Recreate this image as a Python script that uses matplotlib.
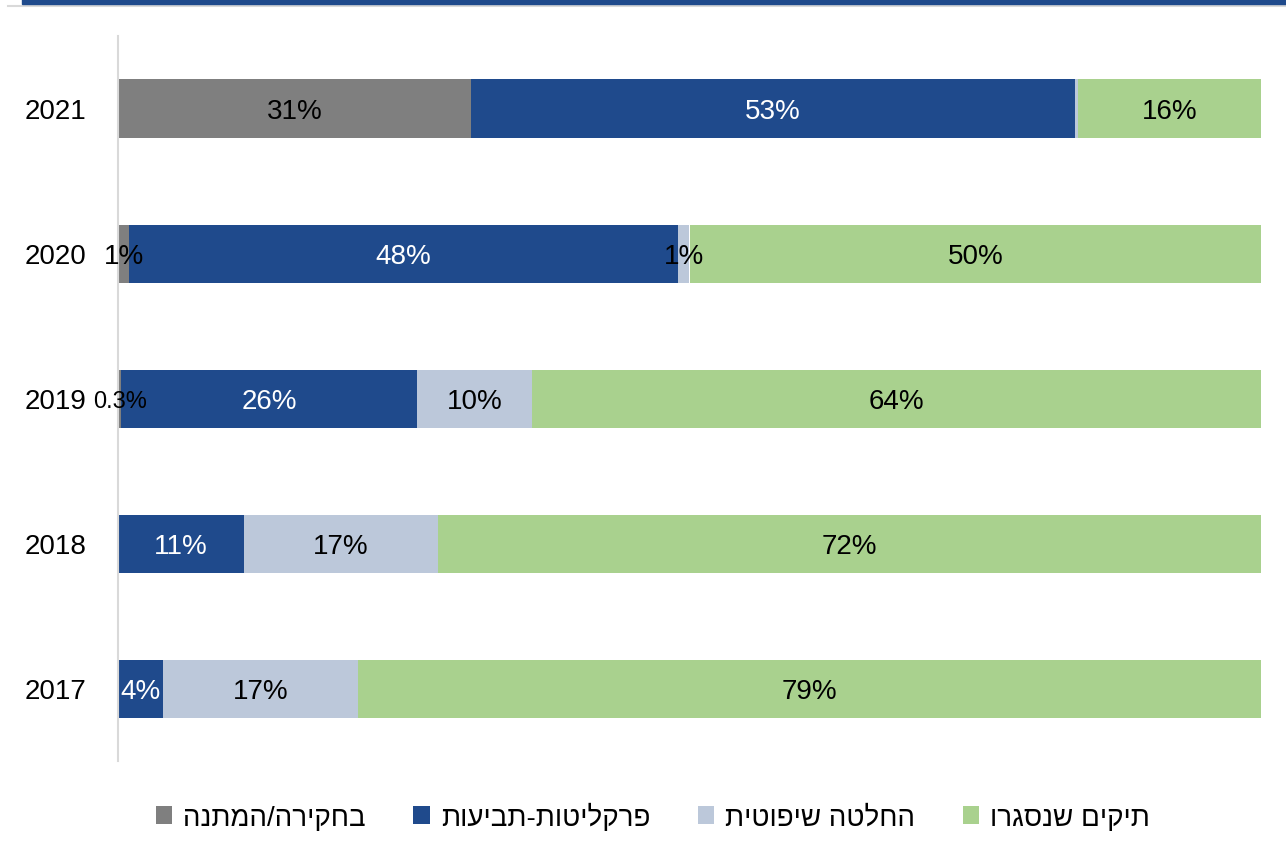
import matplotlib
matplotlib.use("Agg")
import matplotlib.pyplot as plt
from matplotlib.patches import Rectangle, Patch

plt.rcParams['font.family'] = ['Liberation Sans', 'DejaVu Sans']

years = ["2017", "2018", "2019", "2020", "2021"]
series_names = ["בחקירה/המתנה", "פרקליטות-תביעות", "החלטה שיפוטית", "תיקים שנסגרו"]
colors = ["#7f7f7f", "#1f4a8c", "#bcc8da", "#a9d18e"]
text_colors = ["black", "white", "black", "black"]

investigation = [0.0, 0.0, 0.3, 1.0, 30.9]
prosecution = [3.9, 11.0, 25.9, 48.0, 52.8]
judicial = [17.1, 17.0, 10.0, 1.0, 0.3]
closed = [79.0, 72.0, 63.8, 50.0, 16.0]

investigation_labels = ["", "", "0.3%", "1%", "31%"]
prosecution_labels = ["4%", "11%", "26%", "48%", "53%"]
judicial_labels = ["17%", "17%", "10%", "1%", ""]
closed_labels = ["79%", "72%", "64%", "50%", "16%"]

series = [investigation, prosecution, judicial, closed]
labels = [investigation_labels, prosecution_labels, judicial_labels, closed_labels]


def heb(s):
    return s[::-1]


fig = plt.figure(figsize=(12.86, 8.54), dpi=100)
ax = fig.add_axes([118 / 1286, 1 - 762 / 854, (1261 - 118) / 1286, (762 - 37) / 854])

ypos = list(range(len(years)))
left = [0.0] * len(years)
for vals, col, tc, labs in zip(series, colors, text_colors, labels):
    ax.barh(ypos, vals, left=left, height=0.4, color=col, edgecolor='none')
    for i, (v, l, lab) in enumerate(zip(vals, left, labs)):
        if lab:
            ax.text(l + v / 2, ypos[i], lab, ha='center', va='center_baseline',
                    fontsize=20 if v >= 1 else 17, color=tc)
    left = [a + b for a, b in zip(left, vals)]

ax.set_xlim(0, 100)
ax.set_ylim(-0.5, 4.5)
ax.set_yticks(ypos)
ax.set_yticklabels(years, fontsize=20, va='center_baseline')
ax.tick_params(axis='y', length=0, pad=23)
ax.set_xticks([])
for s in ['top', 'right', 'bottom']:
    ax.spines[s].set_visible(False)
ax.spines['left'].set_color('#d9d9d9')
ax.spines['left'].set_linewidth(1.5)

# top banner strip
fig.patches.append(Rectangle((22 / 1286, 1 - 5 / 854), 1 - 22 / 1286, 5 / 854,
                             transform=fig.transFigure, color='#1f4a8c', zorder=5))
fig.lines.append(plt.Line2D([8 / 1286, 1], [1 - 6.5 / 854, 1 - 6.5 / 854],
                            transform=fig.transFigure, color='#d9d9d9', lw=1.5))

handles = [Patch(facecolor=c, edgecolor='none') for c in colors]
leg = fig.legend(handles, [heb(n) for n in series_names], loc='center',
                 bbox_to_anchor=(653 / 1286, 1 - 818 / 854), ncol=4,
                 frameon=False, fontsize=20,
                 handlelength=0.6, handleheight=0.6, handletextpad=0.4,
                 columnspacing=1.7)

fig.savefig("out.png", dpi=100)
